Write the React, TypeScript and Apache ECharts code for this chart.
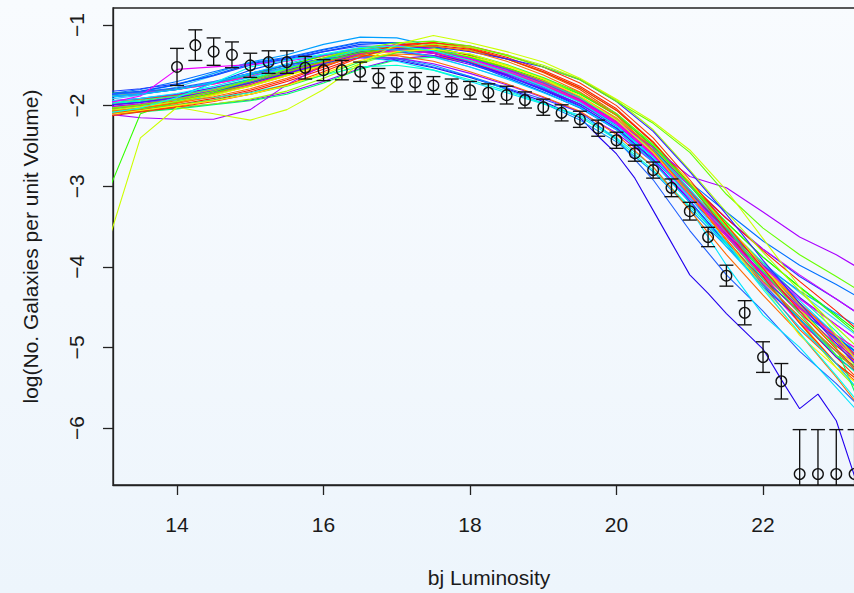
import React, { useEffect, useRef } from "react";
import * as echarts from "echarts";

// x positions (bj magnitude) of the simulated luminosity-function curves
const xGrid = [13, 13.5, 14, 14.5, 15, 15.5, 16, 16.5, 17, 17.5, 18, 18.5, 19, 19.5, 20, 20.5, 21, 21.5, 22, 22.5, 23, 23.5];

// tick values
const xTicks = [14, 16, 18, 20, 22, 24];
const yTicks = [-1, -2, -3, -4, -5, -6];

// observed points with error bars
const obsX = [14, 14.25, 14.5, 14.75, 15, 15.25, 15.5, 15.75, 16, 16.25, 16.5, 16.75, 17, 17.25, 17.5, 17.75, 18, 18.25, 18.5, 18.75, 19, 19.25, 19.5, 19.75, 20, 20.25, 20.5, 20.75, 21, 21.25, 21.5, 21.75, 22, 22.25, 22.5, 22.75, 23, 23.25];
const obsY = [-1.52, -1.25, -1.33, -1.37, -1.5, -1.46, -1.46, -1.53, -1.56, -1.56, -1.58, -1.66, -1.71, -1.71, -1.75, -1.78, -1.81, -1.84, -1.87, -1.93, -2.02, -2.09, -2.17, -2.28, -2.43, -2.59, -2.8, -3.02, -3.31, -3.63, -4.11, -4.57, -5.12, -5.42, -6.57, -6.57, -6.57, -6.57];
const obsHi = [-1.29, -1.06, -1.16, -1.21, -1.35, -1.32, -1.32, -1.39, -1.43, -1.44, -1.46, -1.54, -1.59, -1.59, -1.64, -1.67, -1.7, -1.73, -1.76, -1.83, -1.92, -1.99, -2.07, -2.18, -2.33, -2.49, -2.7, -2.91, -3.2, -3.51, -3.98, -4.42, -4.93, -5.2, -6.02, -6.02, -6.02, -6.02];
const obsLo = [-1.75, -1.44, -1.5, -1.53, -1.65, -1.6, -1.6, -1.67, -1.69, -1.68, -1.7, -1.78, -1.83, -1.83, -1.86, -1.89, -1.92, -1.95, -1.98, -2.03, -2.12, -2.19, -2.27, -2.38, -2.53, -2.69, -2.9, -3.13, -3.42, -3.75, -4.24, -4.72, -5.31, -5.64, null, null, null, null];

// simulated curves (values at xGrid)
const runB1 = [-2.06, -2.0, -1.88, -1.72, -1.56, -1.44, -1.33, -1.24, -1.22, -1.3, -1.45, -1.63, -1.81, -2.01, -2.28, -2.66, -3.12, -3.58, -4.02, -4.48, -4.92, -5.4];
const runB2 = [-1.86, -1.8, -1.7, -1.58, -1.47, -1.4, -1.3, -1.21, -1.22, -1.31, -1.46, -1.63, -1.8, -1.98, -2.22, -2.55, -2.95, -3.32, -3.68, -3.98, -4.22, -4.48];
const runB3 = [-1.88, -1.83, -1.74, -1.6, -1.46, -1.37, -1.24, -1.15, -1.16, -1.26, -1.42, -1.6, -1.78, -1.98, -2.26, -2.64, -3.1, -3.55, -3.98, -4.3, -4.58, -4.85];
const runB4 = [-1.9, -1.86, -1.8, -1.71, -1.6, -1.48, -1.37, -1.3, -1.31, -1.39, -1.52, -1.67, -1.84, -2.02, -2.3, -2.7, -3.2, -3.75, -4.25, -4.75, -5.2, -5.75];
const runB5 = [-1.83, -1.79, -1.73, -1.63, -1.5, -1.42, -1.33, -1.26, -1.27, -1.35, -1.47, -1.61, -1.77, -1.95, -2.2, -2.55, -2.98, -3.4, -3.78, -4.12, -4.4, -4.7];
const runB6 = [-2.02, -1.98, -1.92, -1.82, -1.7, -1.56, -1.43, -1.33, -1.3, -1.35, -1.47, -1.62, -1.8, -2.0, -2.28, -2.68, -3.18, -3.72, -4.25, -4.65, -5.12, -5.45];
const runB7 = [-2.0, -1.96, -1.9, -1.82, -1.72, -1.6, -1.48, -1.37, -1.29, -1.27, -1.33, -1.42, -1.52, -1.68, -1.95, -2.32, -2.82, -3.35, -3.92, -4.45, -4.95, -5.45];
const runB8 = [-1.87, -1.82, -1.74, -1.62, -1.48, -1.41, -1.31, -1.22, -1.22, -1.31, -1.47, -1.65, -1.83, -2.03, -2.3, -2.7, -3.2, -3.7, -4.15, -4.55, -4.88, -5.2];
const runBlueLow = [-1.86, -1.83, -1.78, -1.7, -1.6, -1.5, -1.42, -1.38, -1.42, -1.52, -1.64, -1.78, -1.92, -2.08, -2.42, -2.92, -3.55, -4.1, -4.55, -5.05, -5.45, -5.9];
const runSkyLow = [-1.89, -1.85, -1.8, -1.72, -1.62, -1.52, -1.43, -1.38, -1.41, -1.5, -1.64, -1.8, -1.97, -2.18, -2.45, -2.82, -3.28, -3.75, -4.22, -4.65, -5.05, -5.45];
const runC1 = [-2.1, -2.03, -1.9, -1.72, -1.52, -1.44, -1.36, -1.28, -1.26, -1.32, -1.44, -1.59, -1.76, -1.96, -2.25, -2.64, -3.14, -3.7, -4.28, -4.82, -5.35, -5.9];
const runC2 = [-1.97, -1.93, -1.87, -1.78, -1.67, -1.54, -1.42, -1.33, -1.3, -1.34, -1.44, -1.57, -1.72, -1.9, -2.16, -2.52, -3.0, -3.5, -3.95, -4.38, -4.8, -5.28];
const runC3 = [-2.12, -2.08, -2.04, -1.99, -1.94, -1.86, -1.72, -1.55, -1.43, -1.4, -1.46, -1.58, -1.73, -1.91, -2.17, -2.55, -3.04, -3.56, -4.06, -4.5, -5.0, -6.1];
const runC4 = [-1.93, -1.87, -1.77, -1.63, -1.49, -1.43, -1.38, -1.32, -1.33, -1.4, -1.52, -1.66, -1.83, -2.02, -2.28, -2.64, -3.08, -3.52, -3.95, -4.32, -4.66, -5.0];
const runC5 = [-2.04, -1.99, -1.92, -1.82, -1.7, -1.56, -1.42, -1.31, -1.27, -1.31, -1.42, -1.56, -1.72, -1.91, -2.18, -2.56, -3.04, -3.52, -3.98, -4.42, -4.85, -5.25];
const runC6 = [-1.98, -1.94, -1.88, -1.79, -1.68, -1.55, -1.42, -1.32, -1.28, -1.31, -1.41, -1.55, -1.71, -1.9, -2.18, -2.58, -3.08, -3.62, -4.15, -4.65, -5.1, -5.5];
const runCyanLow = [-1.95, -1.91, -1.85, -1.76, -1.65, -1.53, -1.44, -1.4, -1.45, -1.56, -1.7, -1.84, -1.98, -2.12, -2.4, -2.76, -3.28, -3.98, -4.6, -5.0, -5.5, -6.0];
const runTealLow = [-1.97, -1.95, -1.93, -1.9, -1.84, -1.74, -1.62, -1.52, -1.5, -1.56, -1.68, -1.82, -1.97, -2.14, -2.42, -2.8, -3.25, -3.72, -4.18, -4.62, -5.05, -5.48];
const runG1 = [-2.04, -1.99, -1.92, -1.82, -1.69, -1.55, -1.41, -1.29, -1.22, -1.2, -1.26, -1.38, -1.52, -1.68, -1.95, -2.22, -2.58, -3.1, -3.52, -3.85, -4.12, -4.4];
const runG2 = [-2.08, -2.04, -1.99, -1.93, -1.86, -1.76, -1.62, -1.46, -1.34, -1.3, -1.36, -1.49, -1.65, -1.84, -2.1, -2.48, -2.98, -3.52, -4.05, -4.58, -5.1, -5.35];
const runG3 = [-1.85, -1.83, -1.79, -1.72, -1.62, -1.5, -1.38, -1.29, -1.25, -1.28, -1.37, -1.5, -1.66, -1.85, -2.12, -2.5, -2.98, -3.45, -3.88, -4.25, -4.6, -4.95];
const runG4 = [-2.1, -2.06, -2.02, -1.98, -1.92, -1.82, -1.66, -1.48, -1.34, -1.28, -1.31, -1.42, -1.58, -1.78, -2.06, -2.45, -2.95, -3.5, -4.08, -4.7, -5.25, -5.72];
const runG5 = [-2.06, -2.01, -1.95, -1.86, -1.75, -1.62, -1.49, -1.37, -1.28, -1.24, -1.28, -1.37, -1.5, -1.67, -1.93, -2.3, -2.8, -3.32, -3.82, -4.3, -4.75, -5.18];
const runGreenSteep = [-3.2, -2.1, -1.95, -1.84, -1.72, -1.58, -1.45, -1.34, -1.29, -1.31, -1.4, -1.53, -1.68, -1.86, -2.12, -2.5, -2.98, -3.45, -3.88, -4.25, -4.62, -5.0];
const runYGTop = [-3.87, -2.4, -2.02, -2.1, -2.18, -2.05, -1.8, -1.48, -1.24, -1.13, -1.22, -1.33, -1.46, -1.66, -1.92, -2.2, -2.55, -3.05, -3.65, -4.25, -4.85, -5.4];
const runY1 = [-1.88, -1.85, -1.8, -1.72, -1.62, -1.5, -1.39, -1.31, -1.28, -1.31, -1.4, -1.53, -1.69, -1.88, -2.15, -2.55, -3.06, -3.6, -4.12, -4.68, -5.2, -5.55];
const runY2 = [-2.07, -2.02, -1.96, -1.87, -1.76, -1.63, -1.5, -1.38, -1.32, -1.32, -1.39, -1.51, -1.66, -1.84, -2.1, -2.48, -2.95, -3.48, -4.0, -4.52, -5.02, -5.4];
const runAmber = [-2.0, -1.95, -1.89, -1.8, -1.69, -1.56, -1.43, -1.32, -1.28, -1.32, -1.43, -1.57, -1.73, -1.91, -2.16, -2.52, -2.98, -3.48, -3.98, -4.48, -4.92, -5.3];
const runYellow = [-2.12, -2.06, -2.0, -1.94, -1.86, -1.75, -1.6, -1.44, -1.33, -1.3, -1.36, -1.5, -1.67, -1.88, -2.18, -2.58, -3.1, -3.66, -4.25, -4.85, -5.25, -5.6];
const runPurpleLow = [-2.1, -2.15, -2.17, -2.17, -2.05, -1.74, -1.5, -1.36, -1.3, -1.33, -1.42, -1.55, -1.72, -1.92, -2.2, -2.52, -2.88, -3.02, -3.32, -3.63, -3.85, -4.12];
const runMagentaHigh = [-1.98, -1.88, -1.55, -1.52, -1.49, -1.45, -1.38, -1.28, -1.25, -1.3, -1.42, -1.57, -1.74, -1.94, -2.22, -2.62, -3.1, -3.58, -4.0, -4.4, -4.72, -5.05];
const runP1 = [-1.99, -1.95, -1.89, -1.8, -1.69, -1.56, -1.43, -1.33, -1.3, -1.35, -1.46, -1.6, -1.76, -1.95, -2.22, -2.58, -3.0, -3.4, -3.78, -4.1, -4.4, -4.7];
const runP2 = [-1.86, -1.84, -1.8, -1.73, -1.64, -1.53, -1.42, -1.34, -1.31, -1.35, -1.46, -1.6, -1.76, -1.95, -2.22, -2.62, -3.12, -3.66, -4.2, -4.7, -5.05, -5.3];
const runP3 = [-2.1, -2.07, -2.03, -1.98, -1.93, -1.84, -1.7, -1.54, -1.42, -1.38, -1.44, -1.58, -1.75, -1.95, -2.24, -2.62, -3.1, -3.6, -4.05, -4.45, -4.85, -5.3];
const runP4 = [-2.09, -2.03, -1.96, -1.86, -1.74, -1.6, -1.46, -1.35, -1.3, -1.32, -1.41, -1.54, -1.7, -1.89, -2.16, -2.56, -3.06, -3.62, -4.12, -4.58, -4.95, -5.3];
const runP5 = [-1.95, -1.91, -1.86, -1.78, -1.68, -1.56, -1.44, -1.35, -1.33, -1.38, -1.49, -1.63, -1.79, -1.98, -2.25, -2.62, -3.08, -3.54, -3.98, -4.38, -4.72, -5.05];
const runP6 = [-2.03, -1.98, -1.92, -1.83, -1.72, -1.59, -1.46, -1.36, -1.32, -1.35, -1.45, -1.59, -1.75, -1.94, -2.2, -2.6, -3.1, -3.62, -4.1, -4.52, -4.85, -5.15];
const runVioletLow = [-2.0, -1.96, -1.9, -1.82, -1.71, -1.59, -1.48, -1.41, -1.41, -1.48, -1.6, -1.74, -1.9, -2.08, -2.34, -2.7, -3.15, -3.62, -4.08, -4.5, -4.9, -5.3];
const runOrangeLow = [-2.1, -2.04, -1.96, -1.85, -1.72, -1.58, -1.46, -1.38, -1.38, -1.45, -1.58, -1.73, -1.89, -2.07, -2.36, -2.76, -3.3, -3.85, -4.35, -4.83, -5.37, -5.95];
const runR0 = [-1.86, -1.84, -1.8, -1.73, -1.64, -1.53, -1.41, -1.31, -1.26, -1.28, -1.38, -1.53, -1.7, -1.9, -2.18, -2.56, -3.06, -3.6, -4.1, -4.52, -4.98, -5.35];
const runR1 = [-2.14, -2.08, -2.02, -1.95, -1.86, -1.74, -1.58, -1.4, -1.27, -1.22, -1.26, -1.37, -1.52, -1.72, -2.0, -2.4, -2.92, -3.48, -4.02, -4.55, -5.02, -5.48];
const runR2 = [-1.95, -1.92, -1.87, -1.8, -1.7, -1.57, -1.44, -1.33, -1.28, -1.3, -1.4, -1.55, -1.72, -1.92, -2.2, -2.6, -3.1, -3.68, -4.22, -4.78, -5.2, -5.62];
const runR3 = [-2.1, -2.05, -1.99, -1.91, -1.81, -1.68, -1.52, -1.36, -1.25, -1.22, -1.28, -1.4, -1.56, -1.76, -2.04, -2.45, -2.98, -3.55, -4.12, -4.7, -5.2, -5.55];
const runR4 = [-2.02, -1.98, -1.93, -1.85, -1.74, -1.61, -1.49, -1.4, -1.36, -1.38, -1.46, -1.59, -1.75, -1.93, -2.2, -2.58, -3.06, -3.52, -3.98, -4.45, -4.88, -5.3];
const runR5 = [-2.12, -2.07, -2.01, -1.93, -1.83, -1.7, -1.55, -1.39, -1.28, -1.25, -1.3, -1.42, -1.58, -1.78, -2.06, -2.46, -2.96, -3.4, -3.8, -4.18, -4.55, -4.95];
const runOR = [-2.05, -2.0, -1.94, -1.86, -1.76, -1.63, -1.48, -1.33, -1.24, -1.22, -1.29, -1.42, -1.59, -1.8, -2.1, -2.52, -3.05, -3.62, -4.15, -4.66, -5.12, -5.58];
const runOrange = [-2.08, -2.03, -1.97, -1.89, -1.79, -1.66, -1.51, -1.37, -1.28, -1.26, -1.32, -1.45, -1.62, -1.83, -2.12, -2.56, -3.1, -3.66, -4.18, -4.62, -5.05, -5.5];
const runOrange2 = [-2.09, -2.04, -1.97, -1.87, -1.75, -1.61, -1.47, -1.36, -1.31, -1.34, -1.44, -1.58, -1.74, -1.93, -2.2, -2.58, -3.06, -3.56, -4.02, -4.45, -4.88, -5.3];

// the steeply falling dark-blue curve, sampled more finely at the faint end
const darkBlueX = [13, 13.5, 14, 14.5, 15, 15.5, 16, 16.5, 17, 17.5, 18, 18.5, 19, 19.5, 19.75, 20, 20.25, 20.5, 20.75, 21, 21.25, 21.5, 21.75, 22, 22.25, 22.5, 22.75, 23, 23.25, 23.5];
const darkBlueY = [-1.9, -1.86, -1.8, -1.71, -1.6, -1.5, -1.42, -1.4, -1.44, -1.53, -1.65, -1.79, -1.95, -2.15, -2.38, -2.6, -2.9, -3.3, -3.7, -4.1, -4.33, -4.58, -4.8, -5.02, -5.4, -5.76, -5.58, -5.91, -6.6, -7.3];

const runs: [string, number[]][] = [
  ["#0040ff", runB1],
  ["#ff2a00", runR0],
  ["#33ccff", runC4],
  ["#ffcc00", runY1],
  ["#8800ff", runP3],
  ["#00ff00", runG3],
  ["#ff4400", runOR],
  ["#0070ff", runB2],
  ["#ff00ee", runP2],
  ["#00ffaa", runC2],
  ["#ff5500", runR2],
  ["#2040ff", runB5],
  ["#99ff00", runG4],
  ["#ff8800", runOrange2],
  ["#00a0ff", runB3],
  ["#cc00ff", runP1],
  ["#00ff66", runC3],
  ["#ff7700", runR4],
  ["#4400ff", runB6],
  ["#ff0099", runP4],
  ["#00ddff", runC5],
  ["#ffaa00", runAmber],
  ["#7700ff", runP5],
  ["#ff1a00", runR5],
  ["#0055ff", runB8],
  ["#00ff99", runC6],
  ["#2060ff", runBlueLow],
  ["#eeff00", runY2],
  ["#0099ff", runSkyLow],
  ["#00e5ff", runCyanLow],
  ["#ff2000", runR3],
  ["#00ffcc", runTealLow],
  ["#a000ff", runVioletLow],
  ["#aa00ff", runPurpleLow],
  ["#ee00ff", runMagentaHigh],
  ["#ff00cc", runP6],
  ["#ff6a00", runOrangeLow],
  ["#33ff00", runGreenSteep],
  ["#33ff33", runG2],
  ["#ff3300", runR1],
  ["#aaff00", runG5],
  ["#ffee00", runYellow],
  ["#3322ff", runB7],
  ["#ff6a00", runOrange],
  ["#66ff00", runG1],
  ["#ccff00", runYGTop],
  ["#00ccff", runB4],
  ["#00ffee", runC1],
];

const FONT = "'Liberation Sans', Arial, Helvetica, sans-serif";
const INK = "#1a1a1a";

export default function App() {
  const ref = useRef<HTMLDivElement>(null);

  useEffect(() => {
    if (!ref.current) return;
    const chart = echarts.init(ref.current, null, { renderer: "svg" });

    const lineSeries: any[] = runs.map(([color, vals]) => ({
      type: "line",
      data: xGrid.map((x, i) => [x, vals[i]]),
      showSymbol: false,
      symbol: "none",
      silent: true,
      clip: true,
      lineStyle: { color, width: 1.1 },
      z: 2,
    }));
    lineSeries.splice(19, 0, {
      type: "line",
      data: darkBlueX.map((x, i) => [x, darkBlueY[i]]),
      showSymbol: false,
      symbol: "none",
      silent: true,
      clip: true,
      lineStyle: { color: "#2200ee", width: 1.1 },
      z: 2,
    });

    const errData = obsX.map((x, i) => [x, obsY[i], obsLo[i] === null ? "-" : obsLo[i], obsHi[i]]);

    const option: any = {
      animation: false,
      backgroundColor: "transparent",
      grid: {
        left: 113,
        top: 8,
        width: 752,
        height: 477,
        show: true,
        borderColor: "#222",
        borderWidth: 1.3,
        backgroundColor: "transparent",
        containLabel: false,
        outerBoundsMode: "none",
      },
      xAxis: {
        type: "value",
        min: 13.126,
        max: 23.392,
        name: "bj Luminosity",
        nameLocation: "middle",
        nameGap: 82,
        nameTextStyle: { fontSize: 21, color: INK, fontFamily: FONT },
        axisLine: { show: true, onZero: false, lineStyle: { color: "#222", width: 1.3 } },
        axisTick: { show: true, inside: false, length: 10, customValues: xTicks, lineStyle: { color: "#222", width: 1.3 } },
        axisLabel: { customValues: xTicks, margin: 29, fontSize: 21, color: INK, fontFamily: FONT },
        splitLine: { show: false },
      },
      yAxis: {
        type: "value",
        min: -6.707,
        max: -0.789,
        name: "log(No. Galaxies per unit Volume)",
        nameLocation: "middle",
        nameRotate: 90,
        nameGap: 72,
        nameTextStyle: { fontSize: 21, color: INK, fontFamily: FONT },
        axisLine: { show: true, onZero: false, lineStyle: { color: "#222", width: 1.3 } },
        axisTick: { show: true, inside: false, length: 10, customValues: yTicks, lineStyle: { color: "#222", width: 1.3 } },
        axisLabel: {
          customValues: yTicks,
          rotate: 90,
          margin: 26,
          fontSize: 21,
          color: INK,
          fontFamily: FONT,
          formatter: (v: number) => String(v).replace("-", "\u2212"),
        },
        splitLine: { show: false },
      },
      series: [
        ...lineSeries,
        {
          type: "custom",
          data: errData,
          silent: true,
          z: 5,
          encode: { x: 0, y: 1 },
          renderItem: (params: any, api: any) => {
            const cs = params.coordSys;
            const x = api.value(0);
            const y = api.value(1);
            const lo = api.value(2);
            const hi = api.value(3);
            const pc = api.coord([x, y]);
            const pt = api.coord([x, hi]);
            const bottomEdge = cs.y + cs.height;
            const hasLo = typeof lo === "number" && !isNaN(lo);
            const pbY = hasLo ? api.coord([x, lo])[1] : bottomEdge;
            const st = { stroke: "#111", lineWidth: 1.35, fill: "none" };
            const cap = 7;
            const children: any[] = [
              { type: "line", shape: { x1: pt[0], y1: pt[1], x2: pt[0], y2: Math.min(pbY, bottomEdge) }, style: st },
              { type: "line", shape: { x1: pt[0] - cap, y1: pt[1], x2: pt[0] + cap, y2: pt[1] }, style: st },
              { type: "circle", shape: { cx: pc[0], cy: pc[1], r: 5.3 }, style: { stroke: "#111", lineWidth: 1.35, fill: "none" } },
            ];
            if (hasLo && pbY <= bottomEdge) {
              children.push({ type: "line", shape: { x1: pt[0] - cap, y1: pbY, x2: pt[0] + cap, y2: pbY }, style: st });
            }
            return { type: "group", children };
          },
        },
      ],
    };

    chart.setOption(option);
    return () => chart.dispose();
  }, []);

  return (
    <div
      style={{
        position: "fixed",
        left: 0,
        top: 0,
        width: 854,
        height: 593,
        overflow: "hidden",
        background: "linear-gradient(180deg, #f8fbfe 0%, #f3f8fd 50%, #edf5fc 100%)",
      }}
    >
      <div ref={ref} style={{ width: 900, height: 593 }} />
    </div>
  );
}
